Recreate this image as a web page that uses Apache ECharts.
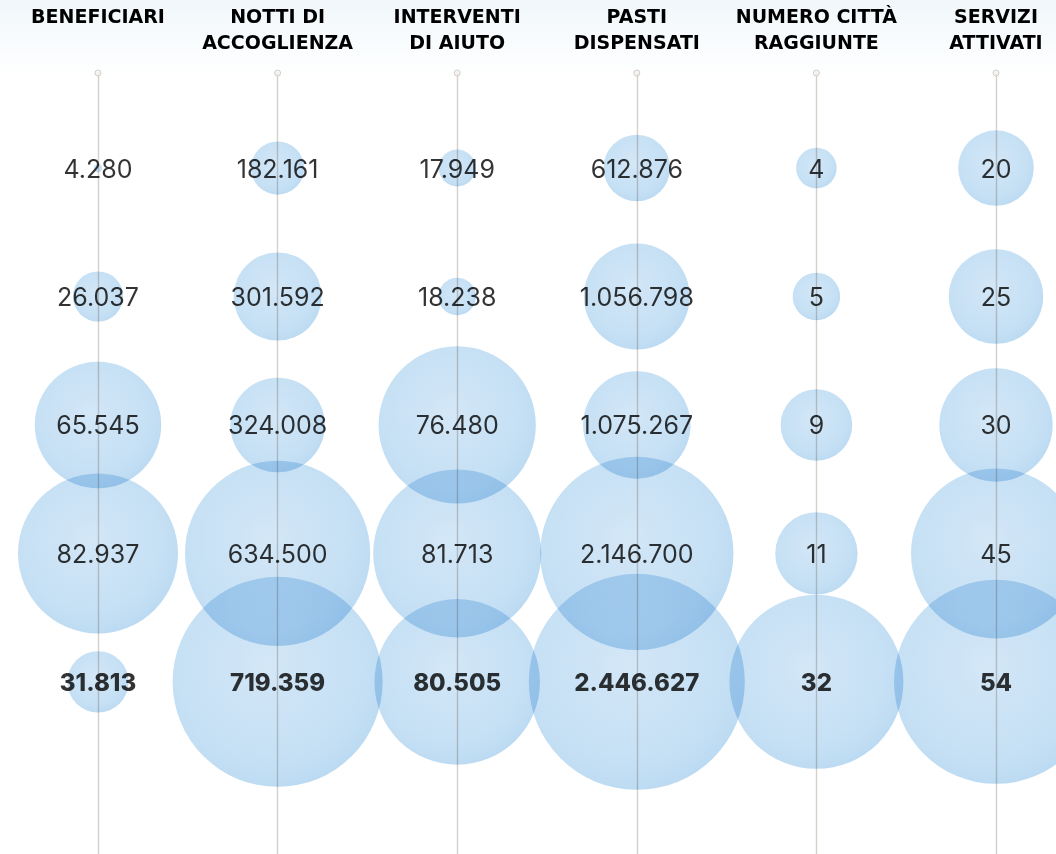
<!DOCTYPE html>
<html>
<head>
<meta charset="utf-8">
<script src="https://cdn.jsdelivr.net/npm/echarts@6/dist/echarts.min.js"></script>
<style>
  html, body { margin: 0; padding: 0; }
  body { background: linear-gradient(to bottom, #f1f7fb 0px, #fbfdfe 55px, #ffffff 80px); }
  #main { width: 1056px; height: 854px; }
</style>
</head>
<body>
<div id="main"></div>
<script>
// intestazioni delle colonne
var categories = ['BENEFICIARI', 'NOTTI DI\nACCOGLIENZA', 'INTERVENTI\nDI AIUTO', 'PASTI\nDISPENSATI', 'NUMERO CITTÀ\nRAGGIUNTE', 'SERVIZI\nATTIVATI'];

// valori per colonna, dall'alto verso il basso (l'ultimo in grassetto)
var beneficiari = [4280, 26037, 65545, 82937, 31813];
var notti = [182161, 301592, 324008, 634500, 719359];
var interventi = [17949, 18238, 76480, 81713, 80505];
var pasti = [612876, 1056798, 1075267, 2146700, 2446627];
var citta = [4, 5, 9, 11, 32];
var servizi = [20, 25, 30, 45, 54];

var columns = [beneficiari, notti, interventi, pasti, citta, servizi];

// raggio massimo e curva della scala per ogni colonna
var maxRadius = [80, 105, 84, 108, 87, 102];
var sizePower = [1, 1, 1, 0.85, 0.7, 1];

// separatore delle migliaia
function fmt(n) {
    return String(n).replace(/\B(?=(\d{3})+(?!\d))/g, '.');
}

var bubbleData = [];
var labelData = [];
var dotData = [];
for (var c = 0; c < columns.length; c++) {
    var col = columns[c];
    var colMax = Math.max.apply(null, col);
    for (var r = 0; r < col.length; r++) {
        var rad = maxRadius[c] * Math.pow(col[r] / colMax, sizePower[c]);
        bubbleData.push({ value: [c, r, col[r]], symbolSize: rad * 2 });
        var last = r == col.length - 1;
        labelData.push({
            value: [c, r, col[r]],
            label: { fontWeight: last ? 800 : 'normal', fontSize: last ? 24 : 25 }
        });
    }
    dotData.push([c, -0.74]);
}

var bubbleColor = {
    type: 'radial', x: 0.45, y: 0.42, r: 0.7,
    colorStops: [
        { offset: 0, color: '#d3e7f7' },
        { offset: 0.7, color: '#c4dff4' },
        { offset: 1, color: '#b2d5ef' }
    ]
};

var myChart = echarts.init(document.getElementById('main'));
var option = {
    animation: false,
    backgroundColor: 'transparent',
    grid: { left: 98, right: 60, top: 73, bottom: 0 },
    xAxis: {
        type: 'value',
        position: 'top',
        min: 0,
        max: 5,
        interval: 1,
        axisLine: { show: false },
        axisTick: { show: false },
        axisLabel: {
            margin: 68,
            verticalAlign: 'top',
            align: 'center',
            lineHeight: 26,
            fontFamily: '"DejaVu Sans", sans-serif',
            fontWeight: 'bold',
            fontSize: 19,
            color: '#000',
            formatter: function (v) { return categories[v]; }
        },
        splitLine: { show: true, lineStyle: { color: '#d6cfca', width: 1.4 } }
    },
    yAxis: {
        type: 'value',
        inverse: true,
        min: -0.74,
        max: 5.34,
        show: false,
        splitLine: { show: false }
    },
    series: [
        {
            type: 'scatter',
            data: bubbleData,
            blendMode: 'multiply',
            clip: false,
            itemStyle: { color: bubbleColor, opacity: 1 },
            silent: true,
            z: 2
        },
        {
            type: 'scatter',
            data: labelData,
            symbolSize: 0,
            clip: false,
            label: {
                show: true,
                position: 'inside',
                offset: [0, 2],
                fontFamily: 'Inter, sans-serif',
                color: '#000',
                formatter: function (p) { return fmt(p.value[2]); }
            },
            z: 5
        },
        {
            type: 'scatter',
            data: dotData,
            symbolSize: 6,
            clip: false,
            itemStyle: { color: '#f4f2f0', borderColor: '#c9c3be', borderWidth: 1 },
            z: 3
        }
    ]
};
myChart.setOption(option);
</script>
</body>
</html>
